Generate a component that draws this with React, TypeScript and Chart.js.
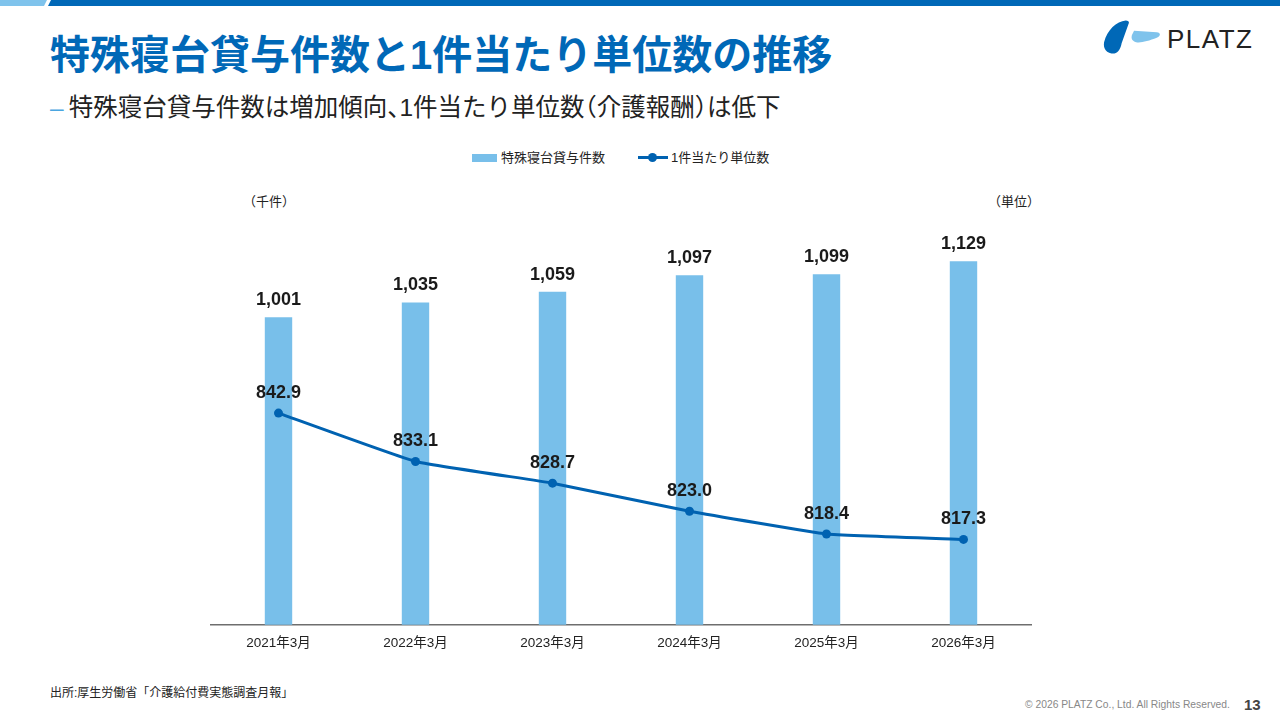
import React, { useEffect, useRef } from "react";
import { Chart, registerables } from "chart.js";

Chart.register(...registerables);

const categories = ["2021年3月", "2022年3月", "2023年3月", "2024年3月", "2025年3月", "2026年3月"];
const rentalCounts = [1001, 1035, 1059, 1097, 1099, 1129];
const unitsPerCase = [842.9, 833.1, 828.7, 823.0, 818.4, 817.3];
const barAxisRange = [300, 1200];
const lineAxisRange = [800, 880];

const FONT = "'Liberation Sans', 'Noto Sans CJK JP', sans-serif";
const BAR_COLOR = "#78bfea";
const LINE_COLOR = "#0062b1";
const TITLE_COLOR = "#0068b7";

const labelPlugin = {
  id: "valueLabels",
  afterDatasetsDraw(chart: any) {
    const ctx = chart.ctx;
    ctx.save();
    ctx.font = `bold 18px ${FONT}`;
    ctx.fillStyle = "#1a1a1a";
    ctx.textAlign = "center";
    ctx.textBaseline = "middle";
    chart.data.datasets.forEach((ds: any, di: number) => {
      const meta = chart.getDatasetMeta(di);
      meta.data.forEach((el: any, i: number) => {
        const v = ds.data[i] as number;
        if (ds.type === "bar") {
          ctx.fillText(v.toLocaleString("en-US"), el.x, el.y - 17);
        } else {
          ctx.fillText(v.toFixed(1), el.x, el.y - 20);
        }
      });
    });
    ctx.restore();
  },
};

function ChartBox() {
  const ref = useRef<HTMLCanvasElement | null>(null);
  useEffect(() => {
    if (!ref.current) return;
    const chart = new Chart(ref.current, {
      type: "bar",
      data: {
        labels: categories,
        datasets: [
          {
            type: "line",
            label: "1件当たり単位数",
            data: unitsPerCase,
            yAxisID: "yLine",
            borderColor: LINE_COLOR,
            backgroundColor: LINE_COLOR,
            borderWidth: 3,
            pointRadius: 4.5,
            pointBackgroundColor: LINE_COLOR,
            pointBorderWidth: 0,
            tension: 0.1,
            order: 0,
          } as any,
          {
            type: "bar",
            label: "特殊寝台貸与件数",
            data: rentalCounts,
            yAxisID: "yBar",
            backgroundColor: BAR_COLOR,
            barPercentage: 0.2,
            categoryPercentage: 1,
            order: 1,
          } as any,
        ],
      },
      options: {
        animation: false,
        responsive: false,
        maintainAspectRatio: false,
        layout: { autoPadding: false, padding: { top: 30, left: 0, right: 0, bottom: 0 } },
        plugins: { legend: { display: false }, tooltip: { enabled: false } },
        scales: {
          x: {
            offset: true,
            grid: { display: false, drawTicks: false },
            border: { display: true, color: "#6e6e6e", width: 1.5 },
            ticks: { color: "#222", font: { family: FONT, size: 13.5 }, padding: 10, maxRotation: 0 },
          },
          yBar: {
            display: false,
            position: "left",
            min: barAxisRange[0],
            max: barAxisRange[1],
          },
          yLine: {
            display: false,
            position: "right",
            min: lineAxisRange[0],
            max: lineAxisRange[1],
          },
        },
      },
      plugins: [labelPlugin],
    });
    return () => chart.destroy();
  }, []);
  return (
    <canvas
      ref={ref}
      width={822}
      height={461}
      style={{ position: "absolute", left: 210, top: 200, width: 822, height: 461 }}
    />
  );
}

const halt: React.CSSProperties = { fontFeatureSettings: '"halt"' };

export default function App() {
  useEffect(() => {
    document.body.style.margin = "0";
  }, []);
  const text: React.CSSProperties = { position: "absolute", fontFamily: FONT, whiteSpace: "nowrap", lineHeight: 1 };
  return (
    <div style={{ position: "relative", width: 1280, height: 720, background: "#fff", overflow: "hidden" }}>
      <svg width={1280} height={8} style={{ position: "absolute", left: 0, top: 0 }}>
        <polygon points="0,0 47,0 44,6 0,6" fill="#7fc3ec" />
        <polygon points="51,0 1280,0 1280,6 48,6" fill={TITLE_COLOR} />
      </svg>
      <div style={{ ...text, left: 50, top: 35, fontSize: 40, fontWeight: 700, color: TITLE_COLOR }}>
        特殊寝台貸与件数と1件当たり単位数の推移
      </div>
      <div style={{ ...text, left: 50, top: 96, fontSize: 24.5, color: "#222" }}>
        <span style={{ color: "#4aa6e0", marginRight: 5 }}>–</span>
        特殊寝台貸与件数は増加傾向<span style={halt}>、</span>1件当たり単位数<span style={halt}>（</span>介護報酬<span style={halt}>）</span>は低下
      </div>
      <svg width={62} height={36} style={{ position: "absolute", left: 1102, top: 19 }} viewBox="0 0 60 34">
        <path d="M23,1 C14,2 5,10 2,22 C1,28 4,33 12,33 C16,32 18,28 19,23 L26,3.5 C26.5,1.8 25,1 23,1 Z" fill="#0068b7" />
        <path d="M31,11 L53,12.5 C57,13 57,16 53,17.8 C45,21 37,23 33,22 C29,21 28,18 29,15 Z" fill="#7fc3ec" />
      </svg>
      <div style={{ ...text, left: 1167, top: 26, fontSize: 26, color: "#222", letterSpacing: 1.5 }}>PLATZ</div>

      <div style={{ ...text, left: 472, top: 151, fontSize: 13, color: "#222", display: "flex", alignItems: "center" }}>
        <span style={{ display: "inline-block", width: 25, height: 8, background: BAR_COLOR, marginRight: 4 }} />
        <span>特殊寝台貸与件数</span>
        <span style={{ position: "relative", display: "inline-block", width: 30, height: 3, background: LINE_COLOR, marginLeft: 33, marginRight: 3 }}>
          <span style={{ position: "absolute", left: 10, top: -3, width: 9, height: 9, borderRadius: "50%", background: LINE_COLOR }} />
        </span>
        <span>1件当たり単位数</span>
      </div>

      <div style={{ ...text, left: 243, top: 195, fontSize: 13, color: "#222" }}>（千件）</div>
      <div style={{ ...text, left: 988, top: 195, fontSize: 13, color: "#222" }}>（単位）</div>

      <ChartBox />

      <div style={{ ...text, left: 50, top: 687, fontSize: 12, color: "#222" }}>出所:厚生労働省「介護給付費実態調査月報」</div>
      <div style={{ ...text, left: 1025, top: 700, fontSize: 10.3, color: "#888" }}>© 2026 PLATZ Co., Ltd. All Rights Reserved.</div>
      <div style={{ ...text, left: 1244, top: 697, fontSize: 15, fontWeight: 700, color: "#444" }}>13</div>
    </div>
  );
}
